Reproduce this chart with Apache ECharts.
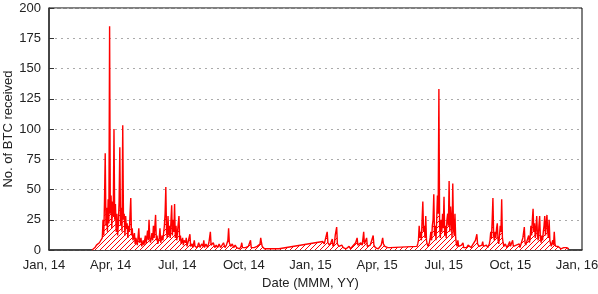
<!DOCTYPE html>
<html>
<head>
<meta charset="utf-8">
<script src="https://cdn.jsdelivr.net/npm/echarts@6/dist/echarts.min.js"></script>
<style>html,body{margin:0;padding:0;background:#fff}#c{width:598px;height:294px}</style>
</head>
<body>
<div id="c"></div>
<script>
// Days since 2014-01-01 and BTC received per day
const days = [
66,68,70,72,74,76,78,80,81,82,83,84,85,86,87,88,89,90,91,92,93,94,95,96,97,98,99,100,101,102,103,104,105,106,107,108,109,110,111,112,113,114,115,116,117,118,119,120,121,122,124,125,126,128,130,131,133,134,136,137,139,140,142,143,144,145,146,148,149,150,151,153,154,155,156,158,159,160,162,163,165,166,167,168,169,170,171,172,173,175,176,177,178,179,180,181,182,183,185,186,187,188,190,191,192,194,195,196,198,200,201,203,204,206,207,209,210,212,214,216,218,219,220,222,224,226,228,229,231,232,234,236,238,240,242,244,246,248,250,252,253,254,256,258,260,262,264,266,268,270,271,272,274,276,278,280,282,283,284,286,288,290,292,294,296,297,298,299,300,302,304,306,308,310,312,314,316,318,320,322,
382,384,386,388,389,391,393,395,396,398,399,401,402,404,406,408,410,412,414,416,418,420,422,424,426,427,429,430,432,434,436,438,439,440,442,443,445,447,449,451,452,454,456,458,460,462,464,465,467,469,471,474,511,
512,513,514,515,516,517,518,519,520,521,522,523,524,525,526,528,529,530,531,532,533,534,535,536,537,538,539,540,541,542,543,544,545,546,547,548,549,550,551,552,553,554,555,556,557,558,559,560,561,562,563,564,565,566,567,568,570,572,574,575,577,579,581,583,585,587,589,591,593,594,596,598,600,601,602,604,606,608,610,611,612,613,614,615,616,617,618,619,620,621,622,623,624,625,626,627,628,629,630,632,634,636,638,639,640,642,643,645,647,649,651,652,654,656,658,659,660,662,664,665,666,667,668,669,670,671,672,673,674,675,676,677,678,679,680,681,682,683,684,685,686,687,688,689,690,691,692,693,694,695,696,697,698,699,700,701,702,704,706,708,710,712,714,716,718,719
];
const btc = [
0,1,2,4,3,6,5,10,25,12,40,80,20,35,15,42,22,185,30,45,18,40,28,100,25,38,15,30,12,22,40,85,20,35,15,103,25,30,12,28,18,22,10,20,15,30,43,12,18,8,14,5,10,4,18,6,10,3,8,4,12,5,16,8,25,10,6,14,8,20,10,29,8,12,5,10,18,6,12,8,20,30,52,15,10,28,12,20,10,37,12,25,15,38,10,20,8,15,28,8,12,5,10,4,8,6,10,3,8,13,3,5,2,8,3,4,2,6,2,5,3,8,2,5,2,6,15,4,3,6,2,4,2,5,2,3,6,2,4,8,18,6,3,5,2,4,2,3,1,3,6,2,1,2,1,3,2,8,2,1,2,1,3,2,5,10,6,3,2,1,2,1,0,1,0,1,2,1,1,1,
7,5,10,15,6,4,6,9,3,6,12,19,5,3,2,4,2,3,1,2,3,1,2,4,3,6,10,4,3,6,4,15,5,4,10,3,2,4,3,12,4,2,3,1,2,4,10,5,3,2,2,2,3,
5,8,20,10,15,8,25,40,15,20,10,28,8,5,3,6,10,15,8,20,25,46,12,20,8,25,45,30,133,20,10,25,15,30,18,44,12,20,10,25,30,20,57,15,36,25,10,55,18,12,30,10,5,3,8,3,2,4,6,2,3,2,4,3,2,4,3,8,13,5,3,2,4,7,3,2,4,2,5,8,15,10,25,43,12,8,15,10,18,22,8,5,12,20,15,42,10,6,3,5,2,4,7,3,2,8,3,2,4,3,5,2,6,10,19,6,4,8,12,6,10,20,12,25,34,15,22,10,18,28,12,8,20,28,10,6,12,8,15,20,28,12,22,29,15,10,25,8,5,3,6,8,4,15,5,3,2,3,2,1,2,2,1,2,2,1
];
const quarterLabels = ['Jan, 14','Apr, 14','Jul, 14','Oct, 14','Jan, 15','Apr, 15','Jul, 15','Oct, 15','Jan, 16'];
const yTicks = [0,25,50,75,100,125,150,175,200];

const pts = days.map((d, i) => [d, btc[i]]);

// hatch pattern: thin red "/" diagonals on white
const pc = document.createElement('canvas');
pc.width = 5; pc.height = 5;
const g = pc.getContext('2d');
g.fillStyle = '#ffffff'; g.fillRect(0, 0, 5, 5);
g.fillStyle = '#ff0000';
for (let i = 0; i < 5; i++) { g.fillRect(i, 4 - i, 1, 1); }

const font = 'Liberation Sans, Arial, sans-serif';
const chart = echarts.init(document.getElementById('c'), null, {renderer: 'canvas'});
chart.setOption({
  animation: false,
  grid: [
    {left: 49, right: 16, top: 8, bottom: 44, outerBoundsMode: 'none', containLabel: false,
     show: true, borderColor: '#000', borderWidth: 1, backgroundColor: 'transparent'},
    {left: 44, right: 21, top: 8, bottom: 44, outerBoundsMode: 'none', containLabel: false}
  ],
  xAxis: [
    {type: 'value', gridIndex: 0, min: 7, max: 737,
     axisLine: {show: true, lineStyle: {color: '#333', width: 1.5}},
     axisTick: {show: false}, axisLabel: {show: false}, splitLine: {show: false}},
    {type: 'value', gridIndex: 1, min: 0, max: quarterLabels.length - 1, interval: 1,
     axisLine: {show: false},
     axisTick: {show: false},
     splitLine: {show: false},
     axisLabel: {color: '#222', fontSize: 13, fontFamily: font, margin: 9,
       formatter: v => quarterLabels[Math.round(v)] || ''},
     name: 'Date (MMM, YY)', nameLocation: 'middle', nameGap: 27, nameMoveOverlap: false,
     nameTextStyle: {color: '#222', fontSize: 13, fontFamily: font}}
  ],
  yAxis: [
    {type: 'value', gridIndex: 0, min: yTicks[0], max: yTicks[yTicks.length - 1], interval: 25,
     axisLine: {show: true, lineStyle: {color: '#333', width: 1.5}},
     axisTick: {show: true, inside: true, length: 5, lineStyle: {color: '#333'}},
     axisLabel: {color: '#222', fontSize: 13, fontFamily: font, margin: 8},
     splitLine: {show: true, lineStyle: {color: '#aaa', type: [2, 4], width: 1}},
     name: 'No. of BTC received', nameLocation: 'middle', nameGap: 34, nameRotate: 90, nameMoveOverlap: false,
     nameTextStyle: {color: '#222', fontSize: 13, fontFamily: font}},
    {type: 'value', gridIndex: 1, show: false}
  ],
  series: [{
    type: 'line', xAxisIndex: 0, yAxisIndex: 0, data: pts,
    showSymbol: false, symbol: 'none', sampling: null,
    lineStyle: {color: '#ff0000', width: 1.4},
    areaStyle: {color: {image: pc, repeat: 'repeat'}, opacity: 1},
    z: 3
  }]
});
</script>
</body>
</html>
